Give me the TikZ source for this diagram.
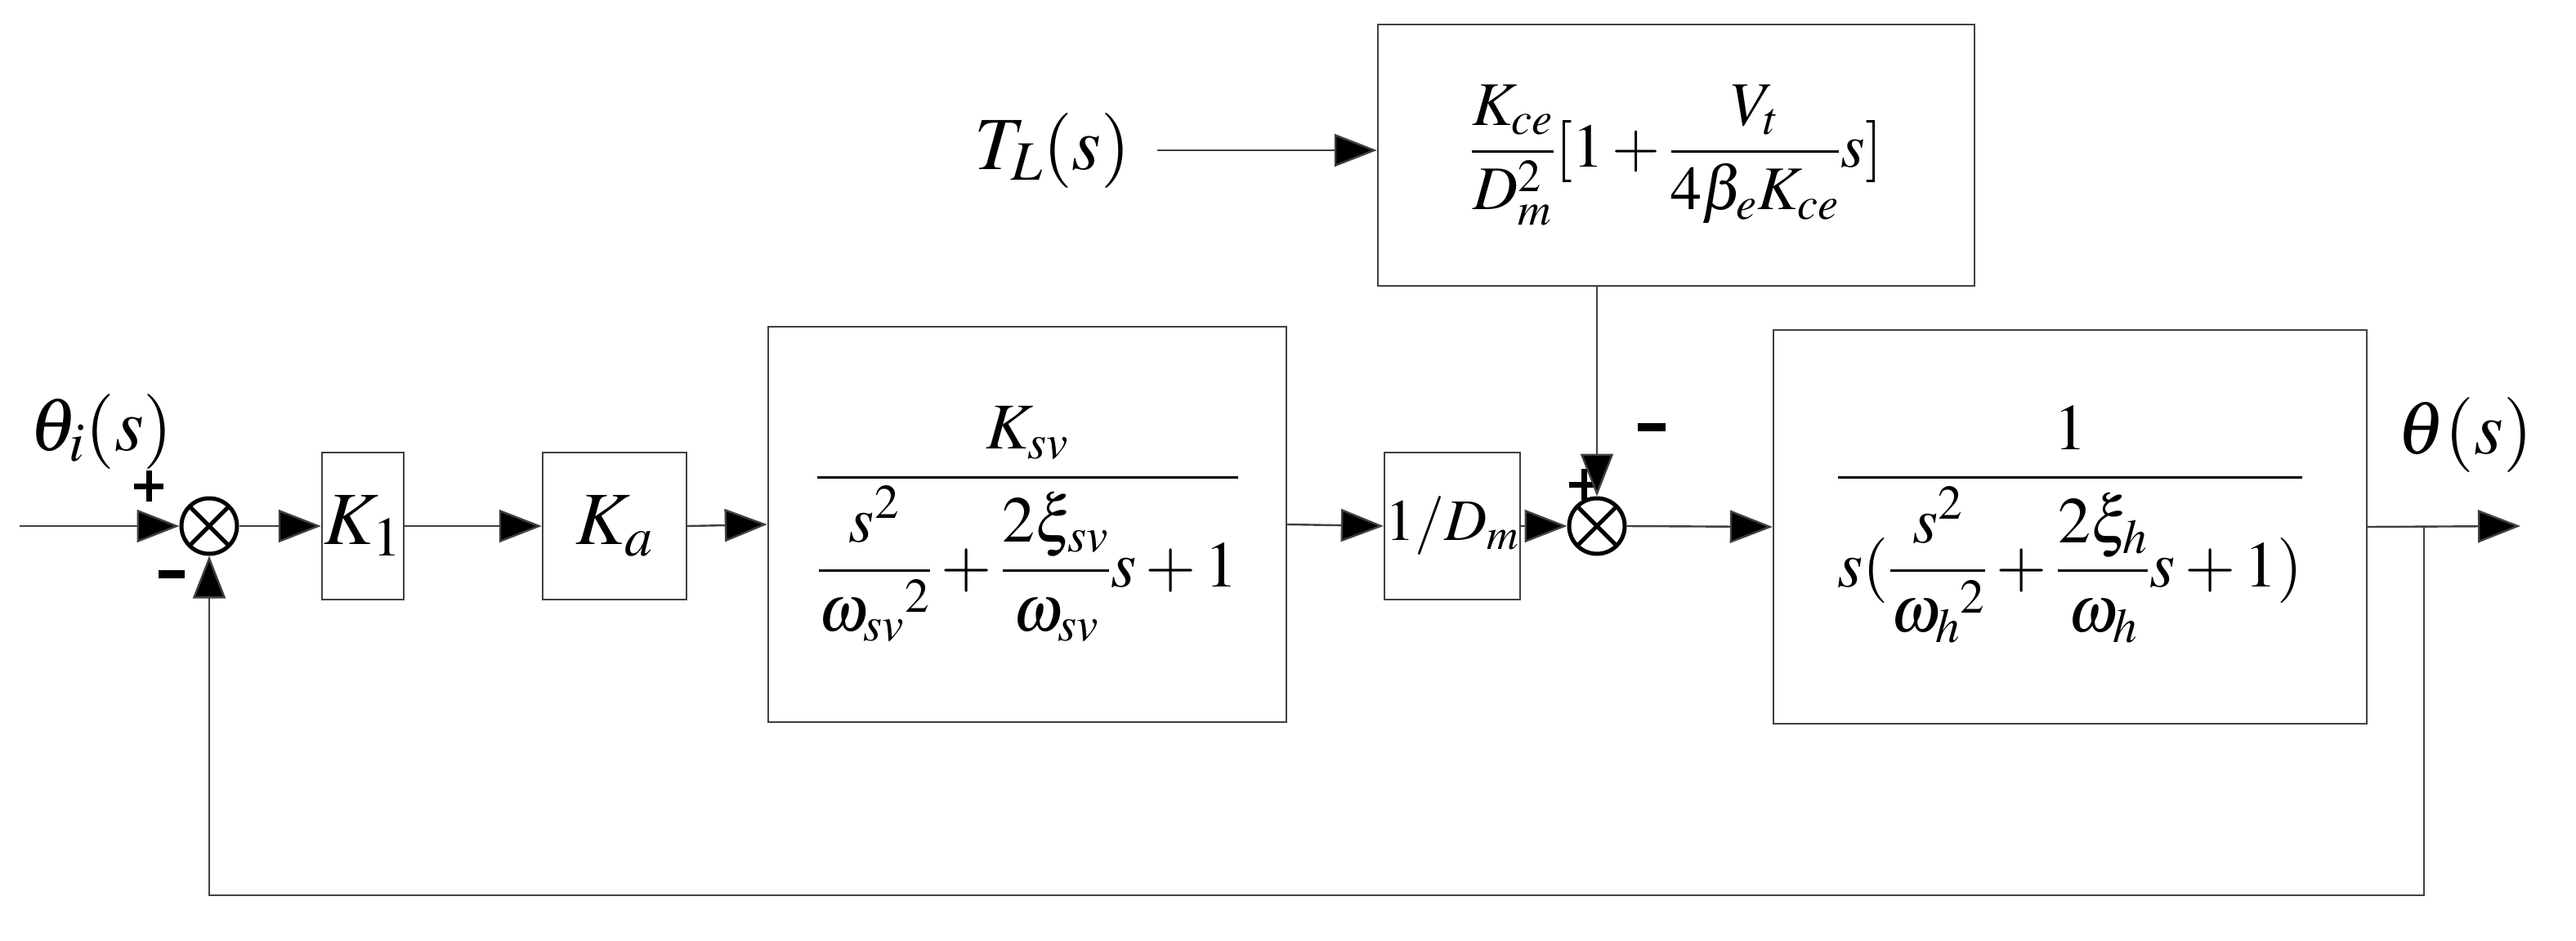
\documentclass[tikz,border=0pt]{standalone}
\usepackage{amsmath}
\usepackage{mathptmx}
\usetikzlibrary{arrows.meta}
\begin{document}
\begin{tikzpicture}[x=1pt,y=-1pt,
  ln/.style={draw=black!75,line width=1.2pt},
  arr/.style={ln,-{Triangle[length=26pt,width=20pt,fill=black]}},
  blk/.style={draw=black!75,line width=1.2pt,rectangle,inner sep=0pt},
  sum/.style={draw=black,line width=2.5pt,circle,minimum size=34pt,inner sep=0pt,
    path picture={\draw[line width=2.5pt,black] (path picture bounding box.north west)--(path picture bounding box.south east) (path picture bounding box.north east)--(path picture bounding box.south west);}},
  txt/.style={font=\fontsize{46}{54}\selectfont,inner sep=0pt}]
\useasboundingbox (0,0) rectangle (1576,575.5);
\fill[white] (0,0) rectangle (1576,575.5);
% blocks
\node[blk,minimum width=50pt,minimum height=90pt] (k1) at (222,322) {};
\node[txt] at (k1) {$K_1$};
\node[blk,minimum width=88pt,minimum height=90pt] (ka) at (376,322) {};
\node[txt] at (ka) {$K_a$};
\node[blk,minimum width=317pt,minimum height=242pt] (sv) at (628.5,321) {};
\node[txt,font=\fontsize{40}{48}\selectfont] at (628.5,321) {$\dfrac{\;K_{sv}\;}{\dfrac{s^2}{{\omega_{sv}}^2}+\dfrac{2\xi_{sv}}{\omega_{sv}}s+1}$};
\node[blk,minimum width=83pt,minimum height=90pt] (dm) at (888.5,322) {};
\node[txt,font=\fontsize{36}{44}\selectfont] at (dm) {$1/D_m$};
\node[blk,minimum width=363pt,minimum height=241pt] (h) at (1266.5,322.5) {};
\node[txt,font=\fontsize{40}{48}\selectfont] at (1266.5,321) {$\dfrac{1}{s(\dfrac{s^2}{{\omega_{h}}^2}+\dfrac{2\xi_{h}}{\omega_{h}}s+1)}$};
\node[blk,minimum width=365pt,minimum height=160pt] (tl) at (1025.5,95) {};
\node[txt,font=\fontsize{38}{46}\selectfont] at (1025.5,95) {$\dfrac{K_{ce}}{D_m^2}[1+\dfrac{V_t}{4\beta_e K_{ce}}s]$};
% sums
\node[sum] (s1) at (128,322) {};
\node[sum] (s2) at (977,322) {};
% labels
\node[txt] (thi) at (62,264) {$\theta_i(s)$};
\node[txt] (tho) at (1508,266) {$\theta(s)$};
\node[txt] (tls) at (644,92) {$T_L(s)$};
% signs
\fill (82,296) rectangle (100,299.5);
\fill (89.25,288) rectangle (92.75,307);
\fill (960,295) rectangle (978,298.5);
\fill (967.25,287) rectangle (970.75,306);
\fill (97,349) rectangle (113,354);
\fill (1002,259) rectangle (1019,264);
% connectors
\coordinate (in) at (12,322);
\coordinate (out) at (1542,322);
\coordinate (br) at (1483,322);
\coordinate (tlin) at (708,92);
\draw[arr] (in) -- (s1.west);
\draw[arr] (s1.east) -- (k1.west);
\draw[arr] (k1.east) -- (ka.west);
\draw[arr] (ka.east) -- (sv.west);
\draw[arr] (sv.east) -- (dm.west);
\draw[arr] (dm.east) -- (s2.west);
\draw[arr] (s2.east) -- (h.west);
\draw[arr] (h.east) -- (out);
\draw[arr] (tlin) -- (tl.west |- tlin);
\draw[arr] (tl.south -| s2) -- (s2.north);
\draw[arr] (br) -- (1483,548) -- (128,548) -- (s1.south);
\end{tikzpicture}
\end{document}
